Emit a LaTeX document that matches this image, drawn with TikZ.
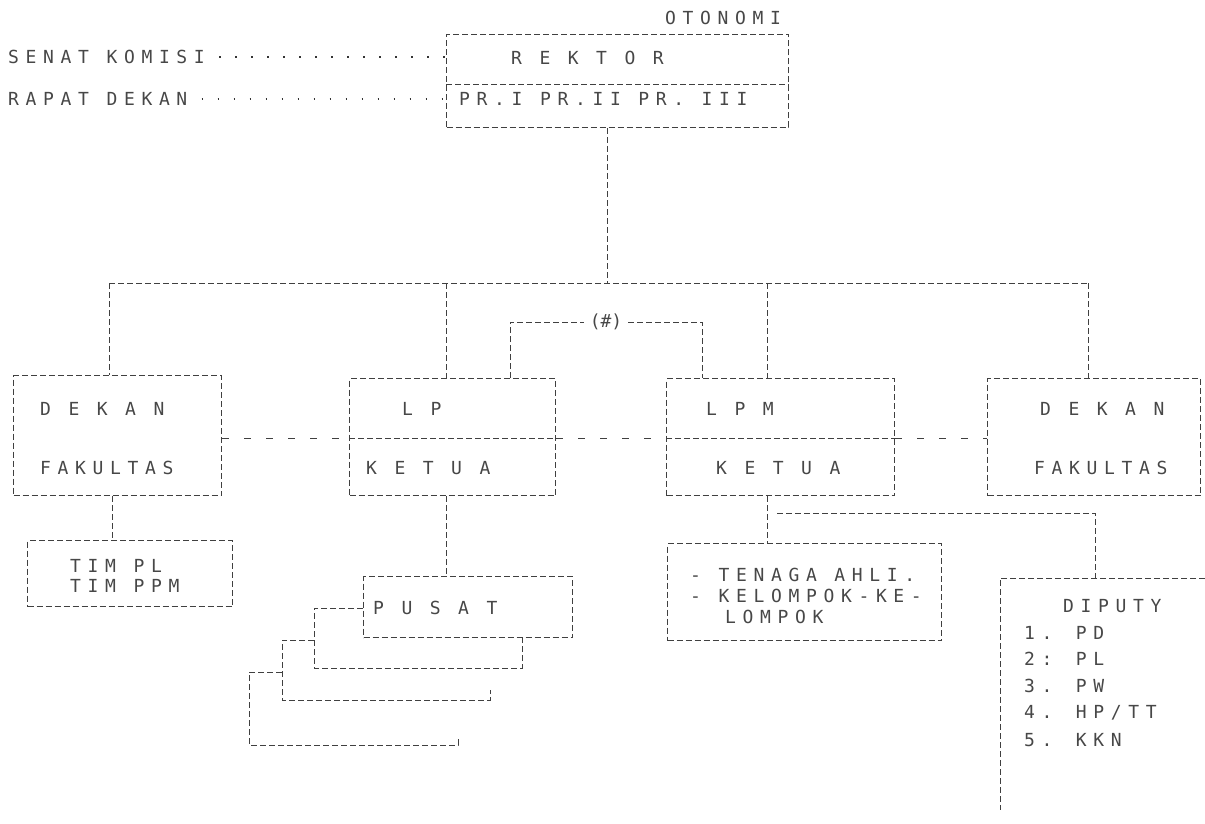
\documentclass[tikz,border=0pt]{standalone}
\usepackage{fontspec}
\newfontfamily\dm[LetterSpace=37]{DejaVu Sans Mono}
\newfontfamily\dmn{DejaVu Sans Mono}
\begin{document}
\begin{tikzpicture}[x=1pt,y=-1pt,
  ln/.style={draw=black!75,line width=1pt,dash pattern=on 6pt off 3pt},
  sparse/.style={draw=black!75,line width=1pt,dash pattern=on 7pt off 15pt},
  dotln/.style={draw=black!80,line width=1.8pt,dash pattern=on 1.8pt off 14.2pt},
  bx/.style={ln,rectangle,inner sep=0pt,anchor=north west},
  tx/.style={font=\dm\fontsize{18}{21}\selectfont,text=black!72,inner sep=0pt},
  txl/.style={tx,anchor=west}]
\useasboundingbox (0,0) rectangle (1205,824);

% ---- top: REKTOR
\node[txl] (oto) at (665,18) {OTONOMI};
\node[bx,minimum width=342pt,minimum height=93pt] (rek) at (446,34) {};
\draw[ln] (rek.west |- 0,85) -- (rek.east |- 0,85);
\node[txl] (rektxt) at (511,58) {R E K T O R};
\node[txl] (prtxt) at (459,99) {PR.I PR.II PR. III};
\node[txl] (senat) at (8,57) {SENAT KOMISI};
\node[txl] (rapat) at (8,99) {RAPAT DEKAN};
\draw[dotln] ([xshift=14pt]senat.east) -- (rek.west |- senat.east);
\draw[dotln] ([xshift=14pt]rapat.east) -- (rek.west |- rapat.east);

% ---- bus
\coordinate (bm) at (607,283);
\coordinate (bl) at (109,283);
\coordinate (br) at (1088,283);
\draw[ln] (rek.south -| bm) -- (bm);
\draw[ln] (bl) -- (br);

% ---- row of boxes
\node[bx,minimum width=208pt,minimum height=120pt] (dk1) at (13,375) {};
\node[bx,minimum width=206pt,minimum height=117pt] (lp) at (349,378) {};
\node[bx,minimum width=228pt,minimum height=117pt] (lpm) at (666,378) {};
\node[bx,minimum width=213pt,minimum height=117pt] (dk2) at (987,378) {};

\draw[ln] (bl) -- (bl |- dk1.north);
\draw[ln] (446,283) -- (lp.north -| 446,0);
\draw[ln] (767,283) -- (lpm.north -| 767,0);
\draw[ln] (br) -- (br |- dk2.north);

% dividers
\draw[ln] (lp.west |- 0,438) -- (lp.east |- 0,438);
\draw[ln] (lpm.west |- 0,438) -- (lpm.east |- 0,438);

% side links
\draw[sparse] (dk1.east |- 0,438) -- (lp.west |- 0,438);
\draw[sparse] (lp.east |- 0,438) -- (lpm.west |- 0,438);
\draw[sparse] (lpm.east |- 0,438) -- (dk2.west |- 0,438);

% (#) link
\coordinate (ha) at (510,322);
\coordinate (hb) at (702,322);
\node[tx,font=\dmn\fontsize{18}{21}\selectfont,inner xsep=6pt] (hash) at (606,322) {(\#)};
\draw[ln] (lp.north -| ha) -- (ha) -- (hash.west);
\draw[ln] (hash.east) -- (hb) -- (lpm.north -| hb);

% box texts
\node[txl] at (40,409) {D E K A N};
\node[txl] at (40,468) {FAKULTAS};
\node[txl] at (402,409) {L P};
\node[txl] at (366,468) {K E T U A};
\node[txl] at (706,409) {L P M};
\node[txl] at (716,468) {K E T U A};
\node[txl] at (1040,409) {D E K A N};
\node[txl] at (1034,468) {FAKULTAS};

% ---- TIM
\node[bx,minimum width=205pt,minimum height=66pt] (tim) at (27,540) {};
\draw[ln] (dk1.south -| 112,0) -- (tim.north -| 112,0);
\node[txl] at (70,566) {TIM PL};
\node[txl] at (70,586) {TIM PPM};

% ---- PUSAT stack
\node[bx,minimum width=209pt,minimum height=61pt] (pus) at (363,576) {};
\draw[ln] (lp.south -| 446,0) -- (pus.north -| 446,0);
\node[txl] at (373,608) {P U S A T};
\draw[ln] (pus.west |- 0,608) -- (314,608) -- (314,668) -- (522,668) -- (pus.south -| 522,0);
\draw[ln] (314,640) -- (282,640) -- (282,700) -- (490,700) -- (490,690);
\draw[ln] (282,672) -- (249,672) -- (249,745) -- (458,745) -- (458,738);

% ---- TENAGA
\node[bx,minimum width=274pt,minimum height=97pt] (ten) at (667,543) {};
\draw[ln] (lpm.south -| 767,0) -- (ten.north -| 767,0);
\node[txl] at (690,575) {- TENAGA AHLI.};
\node[txl] at (690,596) {- KELOMPOK-KE-};
\node[txl] at (725,617) {LOMPOK};

% ---- DIPUTY
\coordinate (j1) at (777,513);
\coordinate (j2) at (1095,513);
\coordinate (dtl) at (1000,578);
\draw[ln] (j1) -- (j2) -- (j2 |- dtl);
\draw[ln] (1205,578) -- (dtl) -- (1000,810);
\node[txl] at (1063,606) {DIPUTY};
\node[txl] at (1024,633) {1. PD};
\node[txl] at (1024,659) {2: PL};
\node[txl] at (1024,686) {3. PW};
\node[txl] at (1024,713) {4. HP/TT};
\node[txl] at (1024,740) {5. KKN};
\end{tikzpicture}
\end{document}
